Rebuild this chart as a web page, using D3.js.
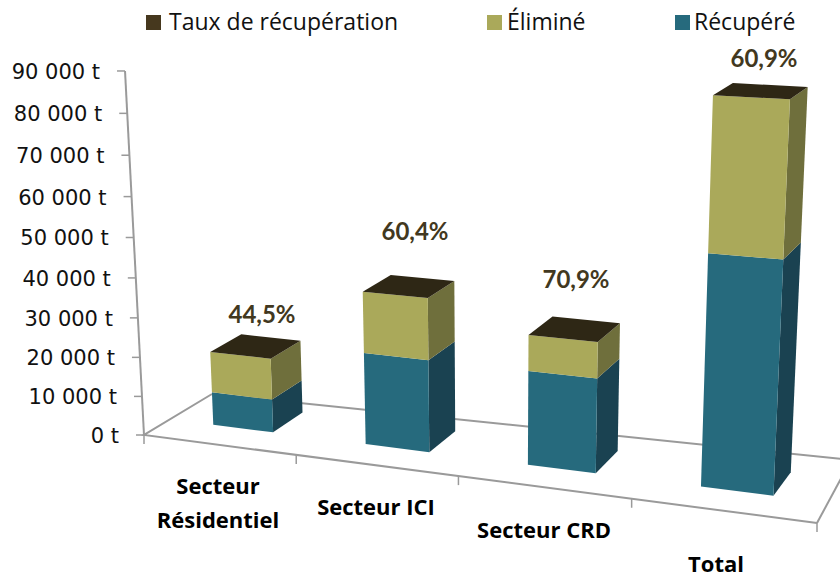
<!DOCTYPE html>
<html><head><meta charset="utf-8">
<script src="https://cdnjs.cloudflare.com/ajax/libs/d3/7.9.0/d3.min.js"></script>
<style>html,body{margin:0;padding:0;background:#fff}svg{display:block}text{font-family:"Open Sans",sans-serif}</style>
</head><body><svg id="c" width="840" height="579"></svg>
<script>
const categories=[["Secteur","Résidentiel"],["Secteur ICI"],["Secteur CRD"],["Total"]];
const recupere=[8500,23000,23000,54500];
const elimine=[10500,15200,8700,34900];
const taux=["44,5%","60,4%","70,9%","60,9%"];
const yTicks=[0,10000,20000,30000,40000,50000,60000,70000,80000,90000];
const legendNames=["Taux de récupération","Éliminé","Récupéré"];

// chart layout
const floor=[[144,435],[817,523],[851,471],[212,394]];
const floorBack=[[212,394],[851,460]];
const vp=[496,7185];
const colors={top:"#2E2715",rec:"#266A7D",recS:"#1A4251",eli:"#AAA95A",eliS:"#6F6F3C",leg:"#46381E",lab:"#423820"};
const catLabelPos=[[218,487],[376,508],[544,531],[716,565]];
const tauxPos=[[262,315],[415,232],[576,280],[764,59]];
const legendPos=[[146,169],[487,507],[675,694]];

function squareToQuad(q){
  const [[x0,y0],[x1,y1],[x2,y2],[x3,y3]]=q;
  const dx1=x1-x2,dx2=x3-x2,sx=x0-x1+x2-x3,dy1=y1-y2,dy2=y3-y2,sy=y0-y1+y2-y3;
  const det=dx1*dy2-dx2*dy1;
  const g=(sx*dy2-dx2*sy)/det,h=(dx1*sy-sx*dy1)/det;
  return [x1-x0+g*x1,x3-x0+h*x3,x0,y1-y0+g*y1,y3-y0+h*y3,y0,g,h,1];
}
const H=squareToQuad(floor);
const yScale=d3.scaleLinear().domain([0,90000]).range([0,-0.05117]);
const band=d3.scaleBand().domain(d3.range(categories.length)).range([0,1]).paddingInner(0).paddingOuter(0);
function proj(u,d,v){
  const X=H[0]*u+H[1]*d+H[2],Y=H[3]*u+H[4]*d+H[5],W=H[6]*u+H[7]*d+H[8];
  const k=yScale(v);
  const w=W+k;
  return [(X+k*vp[0])/w,(Y+k*vp[1])/w];
}
const svg=d3.select("#c");
const line=d3.line();
const axisCol="#9a9a9a";
const axes=svg.append("g").attr("fill","none").attr("stroke",axisCol).attr("stroke-width",2);
axes.append("path").attr("d",line([floor[1],floor[0],floor[3]]));
axes.append("path").attr("d",line(floorBack));
axes.append("path").attr("d",line([floor[1],floorBack[1]]));
axes.append("path").attr("d",line([proj(0,0,0),proj(0,0,90000)]));
yTicks.forEach(t=>{const p=proj(0,0,t);axes.append("path").attr("d",line([[p[0]-8,p[1]],p])).attr("stroke-width",1.5);});
d3.range(categories.length+1).forEach(i=>{const p=proj(i/categories.length,0,0);axes.append("path").attr("d",line([p,[p[0],p[1]+9]])).attr("stroke-width",1.5);});

const f0=0.295,f1=0.695,d0=0.37,d1=0.84;
function box(g,i,v0,v1,front,side){
  const a=band(i)+band.bandwidth()*f0,b=band(i)+band.bandwidth()*f1;
  g.append("path").attr("fill",side).attr("d",line([proj(b,d0,v0),proj(b,d1,v0),proj(b,d1,v1),proj(b,d0,v1)])+"Z");
  g.append("path").attr("fill",front).attr("d",line([proj(a,d0,v0),proj(b,d0,v0),proj(b,d0,v1),proj(a,d0,v1)])+"Z");
}
categories.forEach((c,i)=>{
  const g=svg.append("g");
  const r=recupere[i],t=r+elimine[i];
  box(g,i,0,r,colors.rec,colors.recS);
  box(g,i,r,t,colors.eli,colors.eliS);
  const a=band(i)+band.bandwidth()*f0,b=band(i)+band.bandwidth()*f1;
  g.append("path").attr("fill",colors.top).attr("d",line([proj(a,d0,t),proj(b,d0,t),proj(b,d1,t),proj(a,d1,t)])+"Z");
});
yTicks.forEach(t=>{const p=proj(0,0,t);
  svg.append("text").attr("x",p[0]-25).attr("y",p[1]+8).attr("text-anchor","end").attr("font-size",21).attr("fill","#111").style("font-family","DejaVu Sans")
  .text(t==0?"0 t":d3.format(",")(t).replace(",", " ")+" t");
});
categories.forEach((c,i)=>{
  c.forEach((s,j)=>svg.append("text").attr("x",catLabelPos[i][0]).attr("y",catLabelPos[i][1]+j*34+7).attr("text-anchor","middle").attr("font-size",22).attr("font-weight",700).attr("fill","#000").text(s));
  svg.append("text").attr("x",tauxPos[i][0]).attr("y",tauxPos[i][1]+8).attr("text-anchor","middle").attr("font-size",24).attr("font-weight",700).attr("fill",colors.lab).style("font-family","Lato").text(taux[i]);
});
const legCols=[colors.leg,colors.eli,colors.rec];
legendNames.forEach((n,i)=>{
  svg.append("rect").attr("x",legendPos[i][0]).attr("y",15).attr("width",15).attr("height",15).attr("fill",legCols[i]);
  svg.append("text").attr("x",legendPos[i][1]).attr("y",30).attr("font-size",23).attr("fill","#111").text(n);
});
</script></body></html>
